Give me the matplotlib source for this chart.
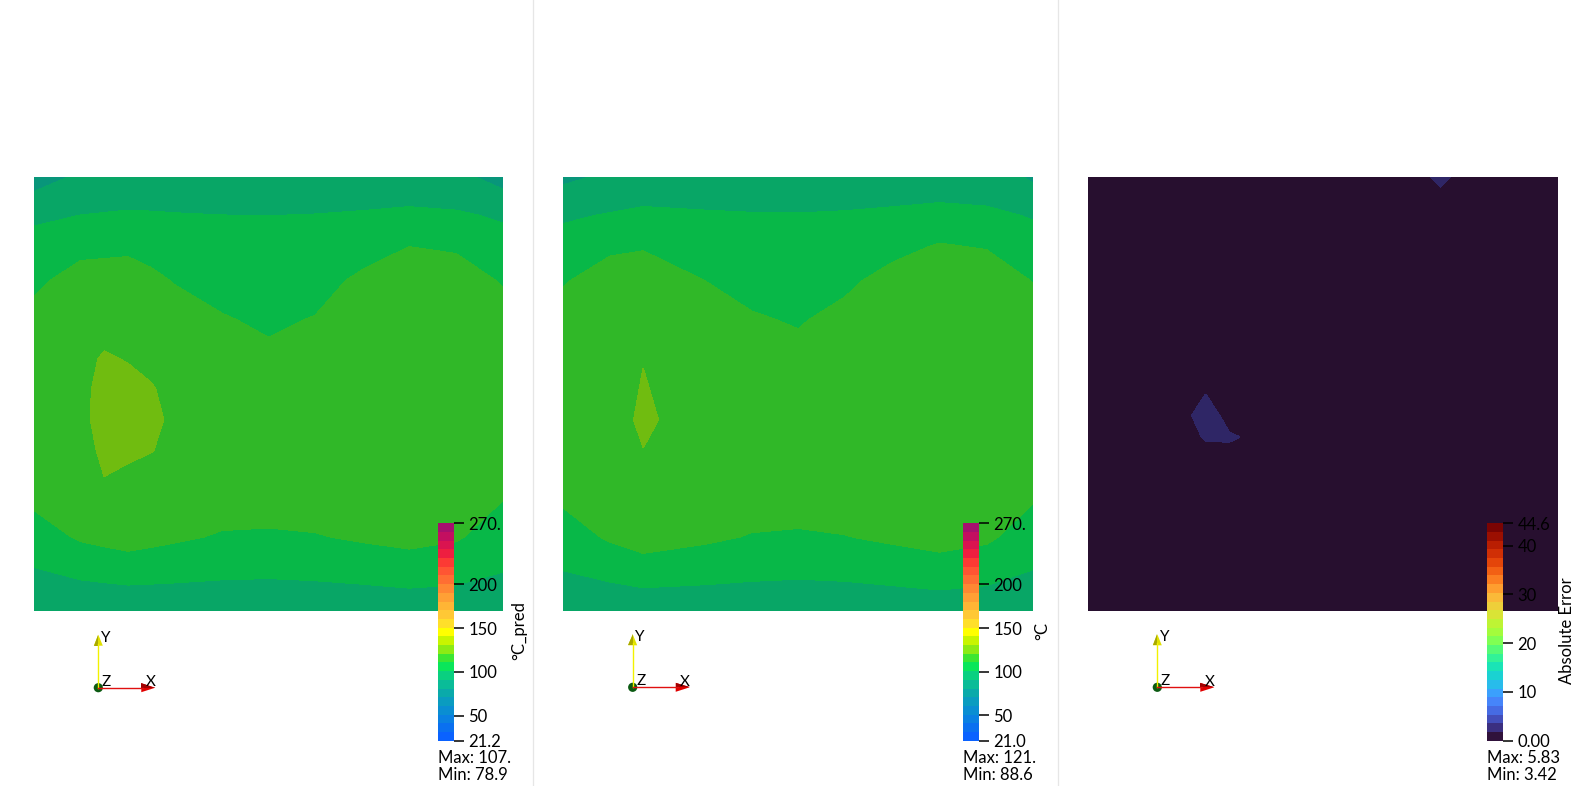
import numpy as np
import matplotlib
matplotlib.use("Agg")
import matplotlib.pyplot as plt
from matplotlib.colors import ListedColormap, Normalize, to_rgb
from matplotlib.cm import ScalarMappable
from matplotlib.patches import Polygon, Circle

plt.rcParams['font.family'] = ['Lato', 'DejaVu Sans']

# ---- node grids of the plate (normalised x / y) ----
x_pred = [0.0, 0.1, 0.15, 0.2, 0.25, 0.3, 0.4, 0.5, 0.6, 0.7, 0.8, 0.9, 1.0]
y_pred = [0.0, 0.05, 0.1, 0.17, 0.3, 0.37, 0.44, 0.51, 0.58, 0.67, 0.76, 0.84, 0.91, 0.96, 1.0]
x_true = [0.0, 0.1, 0.17, 0.3, 0.4, 0.5, 0.6, 0.7, 0.8, 0.9, 1.0]
y_true = [0.0, 0.05, 0.1, 0.17, 0.3, 0.44, 0.58, 0.67, 0.76, 0.84, 0.91, 0.96, 1.0]

# predicted temperature (°C_pred), one row per y node
T_pred = [
    [93.15, 92.68, 92.93, 93.17, 93.48, 93.79, 94.19, 94.10, 94.31, 94.39, 94.96, 94.85, 95.39],
    [96.95, 98.33, 98.94, 99.54, 99.37, 99.20, 98.79, 98.58, 98.96, 99.58, 100.49, 99.82, 98.41],
    [100.74, 103.99, 104.96, 105.92, 105.27, 104.61, 103.40, 103.06, 103.61, 104.76, 106.02, 104.80, 101.42],
    [106.06, 111.90, 113.38, 114.85, 113.52, 112.18, 109.85, 109.34, 110.12, 112.01, 113.76, 111.77, 105.64],
    [115.93, 117.00, 120.50, 118.35, 118.50, 117.00, 117.50, 118.00, 118.00, 117.00, 117.50, 117.00, 113.48],
    [116.70, 118.20, 122.00, 122.50, 120.90, 119.10, 117.25, 117.00, 117.25, 117.25, 117.75, 117.00, 114.50],
    [117.50, 118.70, 123.50, 124.00, 122.50, 119.08, 117.00, 116.00, 116.50, 117.50, 118.00, 117.00, 115.50],
    [116.75, 118.94, 122.80, 123.00, 121.20, 118.53, 115.75, 114.25, 115.50, 117.00, 118.00, 117.00, 115.25],
    [116.00, 118.50, 121.50, 120.30, 118.96, 117.50, 114.50, 112.51, 114.50, 116.50, 118.00, 117.00, 115.00],
    [114.07, 117.00, 117.50, 118.00, 116.79, 115.57, 111.43, 109.31, 111.20, 115.00, 118.50, 117.50, 115.64],
    [108.52, 115.09, 115.49, 115.88, 113.03, 110.17, 107.47, 106.11, 107.35, 112.60, 119.21, 116.94, 109.63],
    [103.59, 107.58, 108.02, 108.45, 106.92, 105.38, 103.95, 103.27, 103.94, 106.75, 110.55, 108.98, 104.29],
    [99.28, 100.91, 101.43, 101.94, 101.56, 101.18, 100.86, 100.78, 100.95, 101.62, 102.98, 102.01, 99.62],
    [91.20, 96.31, 96.80, 97.29, 97.74, 98.18, 98.66, 99.01, 98.83, 97.97, 97.58, 97.04, 91.50],
    [88.50, 91.60, 92.59, 93.57, 94.68, 95.79, 96.90, 97.59, 97.12, 95.04, 93.25, 92.00, 89.00],
]

# reference temperature (°C)
T_true = [
    [94.30, 93.47, 93.89, 94.19, 94.37, 94.16, 94.19, 94.54, 95.10, 94.54, 94.45],
    [97.73, 98.87, 100.19, 99.54, 98.98, 98.60, 98.92, 99.77, 100.82, 99.77, 97.70],
    [101.16, 104.28, 106.49, 104.89, 103.58, 103.04, 103.66, 105.01, 106.54, 105.01, 100.95],
    [105.97, 111.85, 115.30, 112.38, 110.03, 109.26, 110.30, 112.34, 114.55, 112.34, 105.50],
    [114.89, 116.50, 118.90, 116.50, 117.50, 118.00, 118.00, 117.00, 117.50, 117.00, 113.96],
    [116.50, 117.00, 122.00, 116.26, 116.50, 116.00, 116.50, 117.50, 118.00, 117.00, 115.50],
    [116.00, 117.00, 120.32, 116.50, 114.50, 113.19, 115.50, 117.00, 118.00, 117.00, 115.50],
    [115.74, 116.80, 118.50, 116.17, 111.52, 109.84, 113.28, 116.00, 118.50, 117.50, 116.22],
    [109.61, 116.24, 117.31, 110.65, 107.57, 106.48, 108.76, 113.88, 118.00, 117.74, 110.09],
    [104.16, 108.28, 109.50, 105.73, 104.06, 103.50, 104.74, 107.66, 111.30, 109.77, 104.64],
    [99.39, 101.32, 102.66, 101.43, 100.99, 100.89, 101.22, 102.22, 103.81, 102.81, 99.87],
    [92.00, 96.34, 97.80, 98.36, 98.80, 99.03, 98.71, 98.33, 98.47, 97.83, 92.00],
    [89.50, 91.53, 93.89, 95.91, 97.05, 97.54, 96.70, 95.22, 94.19, 93.90, 89.80],
]

# absolute error
x_err = [0.0, 0.1, 0.2, 0.25, 0.3, 0.4, 0.6, 0.7, 0.75, 0.8, 0.9, 1.0]
y_err = [0.0, 0.2, 0.35, 0.4, 0.45, 0.5, 0.6, 0.8, 0.95, 1.0]
abs_err = [
    [0.8, 0.9, 0.9, 1.0, 1.0, 1.0, 1.0, 1.0, 0.9, 0.9, 0.9, 0.8],
    [0.9, 1.0, 1.1, 1.1, 1.1, 1.1, 1.1, 1.1, 1.0, 1.0, 1.0, 0.9],
    [0.9, 1.1, 1.2, 1.2, 1.2, 1.2, 1.1, 1.1, 1.1, 1.0, 1.0, 0.9],
    [0.9, 1.1, 1.2, 1.9, 1.95, 1.2, 1.1, 1.1, 1.1, 1.0, 1.0, 0.9],
    [0.9, 1.1, 1.2, 2.6, 1.2, 1.2, 1.1, 1.1, 1.1, 1.0, 1.0, 0.9],
    [0.9, 1.1, 1.2, 1.75, 1.2, 1.2, 1.1, 1.1, 1.1, 1.0, 1.0, 0.9],
    [0.9, 1.0, 1.1, 1.1, 1.1, 1.1, 1.1, 1.1, 1.1, 1.0, 1.0, 0.9],
    [0.9, 1.0, 1.0, 1.0, 1.0, 1.0, 1.1, 1.2, 1.2, 1.1, 1.0, 0.9],
    [0.8, 0.9, 0.9, 1.0, 1.0, 1.0, 1.1, 1.2, 1.3, 1.2, 1.0, 0.8],
    [0.8, 0.9, 0.9, 0.9, 1.0, 1.0, 1.1, 1.2, 2.2, 1.2, 1.0, 0.8],
]

# colour legend settings
pred_range = (21.2, 270.0)
true_range = (21.0, 270.0)
err_range = (0.0, 44.6)
n_bands = 25
temp_colors = ['#0a62ff', '#0a70f0', '#0a80e2', '#0a8ed2', '#0a9cc0', '#0aaaaa',
               '#0abc98', '#0ad080', '#0ae65a', '#3ce632', '#8ceb14', '#c8f500',
               '#ffff00', '#ffdf2a', '#ffc835', '#ffb535', '#ffa035', '#ff8833',
               '#ff6e33', '#ff5533', '#fc3a34', '#ee1e40', '#da1450', '#c30f60', '#a6106e']
pred_ticks = [21.2, 50, 100, 150, 200, 270]
pred_labels = ['21.2', '50', '100', '150', '200', '270.']
true_ticks = [21.0, 50, 100, 150, 200, 270]
true_labels = ['21.0', '50', '100', '150', '200', '270.']
err_ticks = [0, 10, 20, 30, 40, 44.6]
err_labels = ['0.00', '10', '20', '30', '40', '44.6']
titles = ['°C_pred', '°C', 'Absolute Error']
max_min = [('Max: 107.', 'Min: 78.9'), ('Max: 121.', 'Min: 88.6'), ('Max: 5.83', 'Min: 3.42')]

W, H = 1582, 786
fig = plt.figure(figsize=(W / 100, H / 100), dpi=100)
fig.patch.set_facecolor('white')


def px_axes(x0, y0, x1, y1):
    return fig.add_axes([x0 / W, 1 - y1 / H, (x1 - x0) / W, (y1 - y0) / H])


def shade(cols, f=0.8):
    return ListedColormap([tuple(c * f for c in to_rgb(col)) for col in cols])


temp_cmap = ListedColormap(temp_colors)
turbo_cols = [plt.get_cmap('turbo')(v) for v in np.linspace(0, 1, n_bands)]
err_cmap = ListedColormap(turbo_cols)

panels = [
    dict(box=(34, 176.7, 503, 610.7), x=x_pred, y=y_pred, z=T_pred, rng=pred_range,
         cols=temp_colors, cmap=temp_cmap, ticks=pred_ticks, labels=pred_labels),
    dict(box=(563.3, 176.7, 1033.3, 610.7), x=x_true, y=y_true, z=T_true, rng=true_range,
         cols=temp_colors, cmap=temp_cmap, ticks=true_ticks, labels=true_labels),
    dict(box=(1088.3, 176.7, 1557.7, 610.7), x=x_err, y=y_err, z=abs_err, rng=err_range,
         cols=turbo_cols, cmap=err_cmap, ticks=err_ticks, labels=err_labels),
]
bar_left = [438, 962.7, 1486.7]
title_x = [519, 1042.3, 1567.5]
triad_org = [(98.3, 687.7), (632.7, 687.3), (1157.3, 687.3)]

for i, p in enumerate(panels):
    ax = px_axes(*p['box'])
    norm = Normalize(*p['rng'])
    levels = np.linspace(p['rng'][0], p['rng'][1], n_bands + 1)
    cs = ax.contourf(p['x'], p['y'], np.array(p['z']), levels=levels,
                     cmap=shade(p['cols']), norm=norm)
    cs.set_edgecolor('face')
    cs.set_linewidth(0.6)
    ax.set_xlim(0, 1)
    ax.set_ylim(0, 1)
    ax.axis('off')

    cax = px_axes(bar_left[i], 523.3, bar_left[i] + 16, 740.7)
    cb = fig.colorbar(ScalarMappable(norm=norm, cmap=p['cmap']), cax=cax, ticks=p['ticks'])
    cb.outline.set_visible(False)
    cb.ax.set_yticklabels(p['labels'])
    cb.ax.tick_params(length=7, width=1.1, pad=3.5, labelsize=12, colors='black')

# overlay for dividers, titles, annotations and orientation axes
ov = fig.add_axes([0, 0, 1, 1], zorder=10)
ov.set_xlim(0, W)
ov.set_ylim(H, 0)
ov.axis('off')
ov.patch.set_alpha(0)

for xd in [533.3, 1058.3]:
    ov.plot([xd, xd], [0, H], color='#e6e6e6', lw=0.9)

for i in range(3):
    ov.text(title_x[i], 631, titles[i], rotation=90, ha='center', va='center', fontsize=12)
    ov.text(bar_left[i], 763, max_min[i][0], ha='left', va='baseline', fontsize=12)
    ov.text(bar_left[i], 779.5, max_min[i][1], ha='left', va='baseline', fontsize=12)

    x0, y0 = triad_org[i]
    # Y axis
    ov.plot([x0, x0], [y0, y0 - 44], color='#f2f200', lw=1.0)
    ov.add_patch(Polygon([(x0 - 4.5, y0 - 42), (x0 + 4.5, y0 - 42), (x0, y0 - 53)],
                         closed=True, fc='#e0e000', ec='none'))
    ov.add_patch(Polygon([(x0 - 4.5, y0 - 42), (x0, y0 - 42), (x0, y0 - 53)],
                         closed=True, fc='#a8a800', ec='none'))
    # X axis
    ov.plot([x0, x0 + 45], [y0, y0], color='#e01010', lw=1.0)
    ov.add_patch(Polygon([(x0 + 43, y0 - 4.5), (x0 + 43, y0 + 4.5), (x0 + 57, y0)],
                         closed=True, fc='#e00000', ec='none'))
    ov.add_patch(Polygon([(x0 + 43, y0 - 4.5), (x0 + 43, y0), (x0 + 57, y0)],
                         closed=True, fc='#a00000', ec='none'))
    # Z axis (pointing at the viewer)
    ov.add_patch(Circle((x0, y0), 4.6, fc='#0b5a12', ec='none'))
    ov.text(x0 + 7.5, y0 - 50, 'Y', ha='center', va='center', fontsize=11)
    ov.text(x0 + 8, y0 - 6, 'Z', ha='center', va='center', fontsize=11)
    ov.text(x0 + 52, y0 - 5.5, 'X', ha='center', va='center', fontsize=11)

fig.savefig('out.png', dpi=100, facecolor='white')
